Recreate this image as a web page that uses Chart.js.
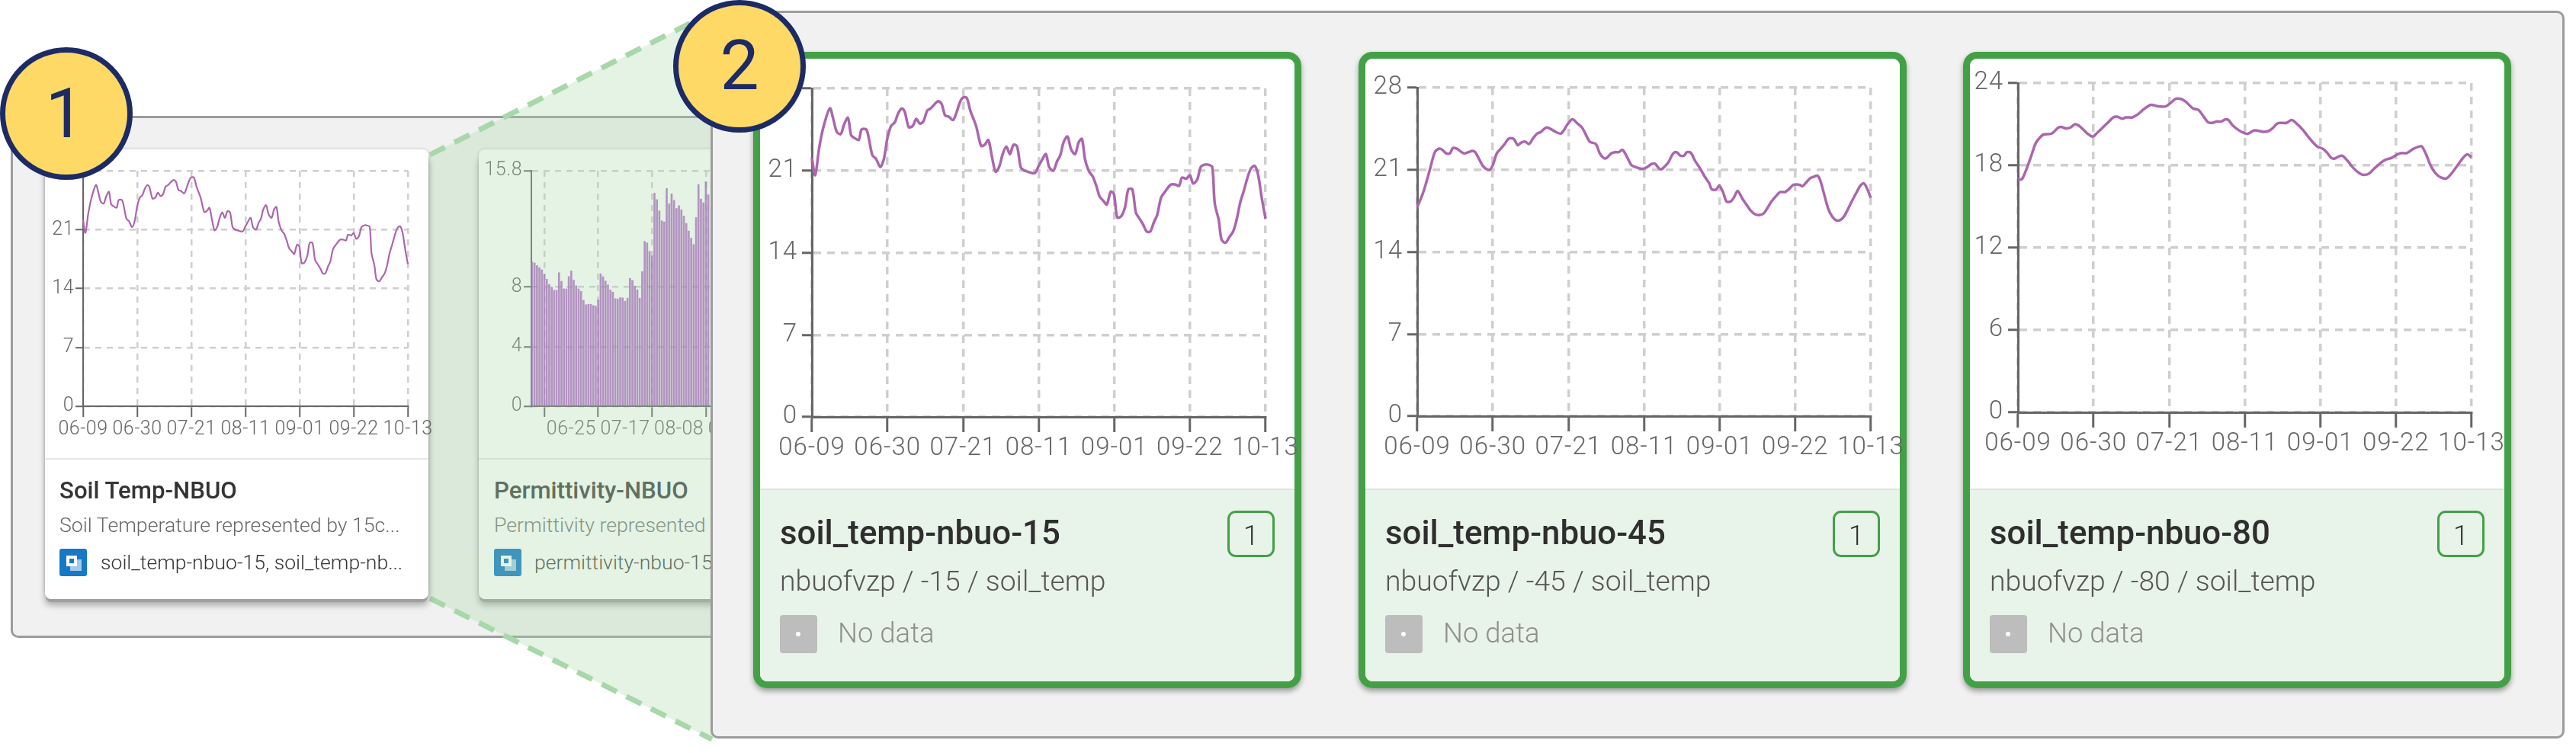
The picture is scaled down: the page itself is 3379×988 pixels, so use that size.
<!DOCTYPE html>
<html><head><meta charset="utf-8">
<script src="https://cdn.jsdelivr.net/npm/chart.js@4"></script>
<style>
html,body{margin:0;padding:0;background:#fff;}
#stage{position:relative;width:3379px;height:988px;overflow:hidden;font-family:Roboto,sans-serif;background:#fff;}
#stage div,#stage canvas,#stage svg{position:absolute;box-sizing:border-box;}
.panel{background:#f1f1f1;border:3px solid #9c9c9c;border-radius:10px;}
.card{background:#fff;border-radius:8px;box-shadow:0 3px 0 #fff,0 8px 0 -1px #a0a0a0,0 11px 8px rgba(0,0,0,.3),0 0 4px rgba(0,0,0,.2);}
.big{background:#fff;border-radius:18px;box-shadow:0 0 0 9px #43a047 inset,0 4px 7px rgba(0,0,0,.35);}
.foot{background:#e8f3e9;border-top:2px solid #e2e2e2;}
.t{white-space:nowrap;line-height:1;}
.circle{background:#ffd966;border:7px solid #1c2b66;border-radius:50%;width:174px;height:174px;}
</style></head><body><div id="stage"></div>
<script>
// ---- values ----
const tickDays = [0, 21, 42, 63, 84, 105, 126];
const tickLabels = ['06-09', '06-30', '07-21', '08-11', '09-01', '09-22', '10-13'];

const days15 = [0,0.9,2,3.2,5,6,6.9,8,8.9,10,10.9,11.7,13,13.8,15.1,15.9,16.8,17.8,19,20,21,22,23,24,25,25.8,26.9,28,29,30,31,32,33,35,36,37,38,39.2,40,41.1,41.9,43,44,45.6,47,48,49,50,51,52,53,54,55,56,57,58,59,60,61,62,63,63.9,65,65.9,67.1,68.1,69,69.9,71,72,73.1,74.1,75,75.9,77,78,79,79.9,81,81.9,83,83.9,84.8,85.9,87,87.9,89,90,91,92,93,94,95,95.9,97,98.1,99.7,101,102,102.8,104,105,105.9,107,108,109,110.1,111.2,111.9,113,113.8,114.9,115.9,117,117.9,119,120,121,122,123,123.9,125,126];
const temp15 = [22.1,20.6,22.9,24.7,26.3,25.3,24.3,24.1,24.9,25.5,24.0,23.8,23.6,24.5,24.5,23.6,22.3,22.0,21.3,22.0,23.8,24.8,25.1,25.9,26.3,26.0,24.7,24.8,25.4,25.0,25.2,26.1,26.3,26.9,26.7,25.7,25.6,25.3,25.8,26.8,27.2,27.2,26.1,24.8,23.1,23.2,23.6,22.2,20.9,21.3,22.4,23.05,22.4,23.2,23.05,21.3,21.0,20.9,20.8,20.8,21.4,21.9,22.4,21.3,21.0,21.8,22.3,23.4,23.9,22.8,22.4,23.4,23.7,21.9,20.9,20.5,19.7,18.8,18.4,18.1,19.2,19.0,17.0,17.1,17.9,19.4,19.4,17.4,16.9,16.4,15.8,15.8,16.6,17.2,18.7,19.2,19.8,19.8,19.7,20.4,20.3,20.6,19.9,20.2,21.3,21.5,21.5,21.3,18.2,16.8,15.1,14.85,15.3,15.8,16.7,18.3,19.3,20.4,21.2,21.4,20.7,18.6,16.9];

const days45 = [0,1.7,3.5,4.9,6.1,7,8,9.1,9.9,11,11.9,13,14.2,15.3,16.1,17.2,18.3,19.3,20.2,21,22.1,23.2,24.3,25.2,26,26.9,27.9,28.8,29.9,31.1,32,33.2,34.2,35.9,37.5,38.6,40,41.8,43.1,44.5,45.9,47.9,49.6,50.7,51.8,52.6,53.9,54.9,56,57,58.1,59.5,60.9,62,63,64.2,65.1,66.1,67.2,67.9,68.8,69.8,70.8,71.6,72.3,73.1,74.1,74.9,76,77.2,78.6,79.8,81.1,81.8,83,83.9,85,85.9,87.1,88,89,90.3,91.3,92.7,93.9,95.2,96.3,97.3,98.4,99.8,100.8,102.1,103.1,104.4,105.4,106.3,107,108,109.2,110.1,111.1,111.9,113,114.2,115.3,116.3,117.4,118.5,119.5,120.7,122,123,124,124.8,126];
const temp45 = [17.8,19.1,21,22.5,22.8,22.7,22.4,22.4,22.85,22.8,22.6,22.4,22.5,22.6,22.5,21.9,21.3,21.05,21,21.4,22.4,22.8,23.2,23.6,23.7,23.6,23.1,23.3,23.4,23.2,23.6,24.05,24.2,24.6,24.4,24.2,24.1,24.9,25.3,24.95,24.55,23.4,23.2,22.4,22.0,22.0,22.4,22.5,22.5,22.7,22.2,21.4,21.2,21.1,21.1,21.3,21.5,21.5,21.1,21.05,21.3,21.65,22.25,22.5,22.45,22.2,22.2,22.5,22.45,21.75,21.1,20.45,19.85,19.35,19.3,19.65,19.05,18.3,18.3,18.65,19.2,18.55,18.1,17.5,17.2,17.15,17.3,17.75,18.3,18.8,19.1,19.1,19.3,19.7,19.75,19.7,19.6,19.9,20.3,20.4,20.5,20.15,18.95,17.65,17.0,16.7,16.7,17.0,17.55,18.3,19.05,19.6,19.85,19.5,18.6];

const days80 = [0,1.1,2.1,3.5,4.9,6,7.1,9.2,10.2,11.2,12,13.3,14.5,15.9,16.9,18,19.4,20.8,21.9,23.3,24.7,26.5,27.5,29,30,31.8,33.2,35,36.7,37.4,39,41,42.4,43.8,45.2,46.6,48.6,50.1,51.6,52.8,54,55.1,56.5,57.6,58.5,59.7,61.4,62.9,63.8,65.7,68.2,69.6,70.7,72,72.8,74.6,76,77.4,79.1,80.9,83,84.8,85.8,87,88,89.1,90.1,91.5,93.2,95,96.1,97.5,98.9,100.6,102,103.8,105.4,106.6,108,109.8,111.2,112.1,113.3,114.7,116.1,117.6,119,120.4,122.1,123.5,124.8,126];
const temp80 = [16.95,17.0,17.55,18.55,19.6,20.0,20.25,20.3,20.5,20.75,20.8,20.7,20.75,21.0,20.9,20.65,20.3,20.1,20.35,20.7,21.05,21.5,21.55,21.4,21.5,21.5,21.7,22.1,22.4,22.4,22.3,22.3,22.55,22.85,22.85,22.65,22.15,22.05,21.55,21.15,21.1,21.2,21.2,21.35,21.3,20.9,20.55,20.35,20.3,20.55,20.45,20.5,20.7,21.05,21.1,21.1,21.3,21.05,20.6,20.0,19.4,19.2,18.95,18.55,18.5,18.65,18.7,18.35,17.8,17.4,17.3,17.4,17.75,18.15,18.4,18.55,18.8,18.9,18.9,19.2,19.35,19.4,18.85,17.95,17.4,17.1,17.05,17.4,18.0,18.5,18.8,18.6];

const permittivity = [9.68,9.61,9.44,9.30,9.15,8.86,8.52,8.17,7.99,7.78,7.78,8.96,8.38,7.88,7.87,8.70,9.08,8.46,8.09,7.87,7.71,7.10,6.81,6.84,6.84,6.76,6.72,7.13,8.89,8.69,8.40,8.14,7.80,7.66,7.22,7.20,7.29,7.27,7.05,7.25,8.58,8.45,8.07,7.82,7.25,9.03,11.06,10.96,10.39,10.09,14.30,13.87,13.11,12.44,12.37,14.61,13.58,14.25,13.81,13.26,13.46,13.19,12.76,12.27,11.76,11.28,10.85,12.66,14.88,13.91,13.65,15.07,14.18];
const permTickDays = [16, 38, 60, 82, 104, 126];
const permTickLabels = ['06-25', '07-17', '08-08', '08-30', '09-21', '10-13'];
const permYTicks = [0, 4, 8, 15.8];

const ticks28 = [0, 7, 14, 21, 28];
const ticks24 = [0, 6, 12, 18, 24];

// ---- page building ----
const stage = document.getElementById('stage');
function box(cls, l, t, w, h, z, css) {
  const d = document.createElement('div');
  d.className = cls;
  d.style.cssText = `left:${l}px;top:${t}px;width:${w}px;height:${h}px;z-index:${z};${css || ''}`;
  stage.appendChild(d);
  return d;
}
function text(str, l, baseline, size, weight, color, z, extra) {
  const d = document.createElement('div');
  d.className = 't';
  d.textContent = str;
  d.style.cssText = `left:${l}px;top:${baseline - size * 0.8415}px;font-size:${size}px;font-weight:${weight};color:${color};z-index:${z};${extra || ''}`;
  stage.appendChild(d);
  return d;
}

box('panel', 14, 152, 960, 685, 1);
box('panel', 932, 14, 2432, 955, 5);

// overlay wedge between the two panels
const NS = 'http://www.w3.org/2000/svg';
const svg = document.createElementNS(NS, 'svg');
svg.setAttribute('width', 3379); svg.setAttribute('height', 988);
svg.style.cssText = 'left:0;top:0;z-index:3;';
svg.innerHTML = '<polygon points="562,204 934,16 934,970 562,784" fill="rgba(165,214,167,0.3)"/>' +
  '<line x1="564" y1="203" x2="934" y2="16" stroke="#a8d8aa" stroke-width="7" stroke-dasharray="22 14"/>' +
  '<line x1="564" y1="785" x2="934" y2="970" stroke="#a8d8aa" stroke-width="7" stroke-dasharray="22 14"/>';
stage.appendChild(svg);

function icon(l, t, z, color) {
  box('', l, t, 36, 36, z, `background:${color};border-radius:3px;`);
  box('', l + 14, t + 14, 15, 15, z, 'background:rgba(255,255,255,.6);');
  box('', l + 9, t + 9, 14, 14, z, 'background:#fff;');
  box('', l + 13, t + 13, 6, 6, z, `background:${color};`);
}

// small card 1
box('card', 59, 196, 503, 587, 4);
box('', 59, 601, 503, 2, 4, 'background:#e6e6e6;');
text('Soil Temp-NBUO', 78, 654, 31.2, 500, '#333', 4);
text('Soil Temperature represented by 15c...', 78, 698, 26.7, 300, '#666', 4);
icon(78, 720, 4, '#1579c6');
text('soil_temp-nbuo-15, soil_temp-nb...', 132, 747, 26.6, 300, '#333', 4);

// small card 2
box('card', 628, 196, 503, 587, 2);
box('', 628, 601, 503, 2, 2, 'background:#e6e6e6;');
text('Permittivity-NBUO', 648, 654, 31.2, 500, '#444', 2);
text('Permittivity represented by 15cm...', 648, 698, 26.7, 300, '#777', 2);
icon(648, 720, 2, '#1579c6');
text('permittivity-nbuo-15, permittivity...', 701, 747, 26.6, 300, '#444', 2);

// large cards
const bigCards = [
  { left: 988, name: 'soil_temp-nbuo-15', sub: 'nbuofvzp / -15 / soil_temp' },
  { left: 1782, name: 'soil_temp-nbuo-45', sub: 'nbuofvzp / -45 / soil_temp' },
  { left: 2575, name: 'soil_temp-nbuo-80', sub: 'nbuofvzp / -80 / soil_temp' }
];
bigCards.forEach(c => {
  const L = c.left;
  box('big', L, 68, 719, 835, 6);
  box('foot', L + 9, 641, 701, 253, 6, 'border-radius:0 0 10px 10px;');
  text(c.name, L + 35, 715, 43.8, 500, '#2e2e2e', 7);
  text(c.sub, L + 35, 775, 37.3, 300, '#555', 7);
  box('', L + 622, 670, 62, 61, 7, 'border:3px solid #43a047;border-radius:11px;');
  text('1', L + 622, 715, 36, 300, '#333', 7, 'width:62px;text-align:center;');
  box('', L + 35, 807, 49, 50, 7, 'background:#bdbdbd;border-radius:4px;');
  box('', L + 56, 829, 6, 6, 7, 'background:#fff;border-radius:50%;');
  text('No data', L + 111, 844, 36.5, 300, '#8f8f8f', 7);
});

// numbered circles
box('circle', 0, 62, 174, 174, 8);
text('1', -2, 181, 91, 400, '#1c2b66', 8, 'width:174px;text-align:center;');
box('circle', 883, 0, 174, 174, 8);
text('2', 883, 118, 91, 400, '#1c2b66', 8, 'width:174px;text-align:center;');

// ---- charts ----
const pairs = (xs, ys) => xs.map((x, i) => ({ x, y: ys[i] }));
function axisFont(size) { return { family: 'Roboto', size, weight: '300' }; }

function plot(o) {
  const c = document.createElement('canvas');
  const width = o.yW + (o.right - o.left) + o.padR;
  const height = o.padT + (o.bottom - o.top) + o.xH;
  c.width = width; c.height = height;
  c.style.cssText = `left:${o.left - o.yW}px;top:${o.top - o.padT}px;width:${width}px;height:${height}px;z-index:${o.z};`;
  stage.appendChild(c);
  const gridX = { color: '#cfcfcf', lineWidth: o.grid, tickColor: '#666', tickWidth: o.axisW, tickLength: o.xTick, tickBorderDash: [] };
  const gridY = { color: '#cfcfcf', lineWidth: o.grid, tickColor: '#666', tickWidth: o.axisW, tickLength: o.yTick, tickBorderDash: [] };
  const border = { color: '#666', width: o.axisW, dash: o.dash };
  return new Chart(c, {
    type: o.type,
    data: { datasets: [o.dataset] },
    plugins: [{ id: 'spacing', beforeDraw: ch => { ch.ctx.letterSpacing = o.spacing; } }],
    options: {
      responsive: false, animation: false, devicePixelRatio: 1,
      layout: { autoPadding: false, padding: { top: o.padT, right: o.padR, left: 0, bottom: 0 } },
      plugins: { legend: { display: false }, tooltip: { enabled: false } },
      scales: {
        x: {
          type: 'linear', min: o.xMin, max: o.xMax, offset: false,
          grid: gridX, border,
          afterBuildTicks: s => { s.ticks = o.xTicks.map(value => ({ value })); },
          afterFit: s => { s.height = o.xH; },
          ticks: { font: axisFont(o.font), color: o.tickColor, padding: o.xPad, maxRotation: 0, minRotation: 0, autoSkip: false,
            callback: v => o.xLabels[o.xTicks.indexOf(v)] }
        },
        y: {
          type: 'linear', min: o.yTicks[0], max: o.yTicks[o.yTicks.length - 1],
          grid: gridY, border,
          afterBuildTicks: s => { s.ticks = o.yTicks.map(value => ({ value })); },
          afterFit: s => { s.width = o.yW; },
          ticks: { font: axisFont(o.font), color: o.tickColor, padding: o.yPad, autoSkip: false, callback: v => String(v) }
        }
      }
    }
  });
}
function lineSet(xs, ys, w) {
  return { data: pairs(xs, ys), borderColor: '#ab66ae', borderWidth: w, pointRadius: 0, tension: 0.3, fill: false, clip: false };
}
const bigBase = { type: 'line', padT: 40, padR: 70, yW: 60, xH: 70, z: 7, grid: 3.5, axisW: 3, dash: [10, 8], xTick: 20, yTick: 13,
  font: 33, spacing: '1px', xPad: 2, yPad: 6, tickColor: '#666', xMin: 0, xMax: 126, xTicks: tickDays, xLabels: tickLabels };
plot({ ...bigBase, left: 1065, right: 1660, top: 116, bottom: 547, yTicks: ticks28, dataset: lineSet(days15, temp15, 3.5) });
plot({ ...bigBase, left: 1859, right: 2454, top: 115, bottom: 546, yTicks: ticks28, dataset: lineSet(days45, temp45, 3.5) });
plot({ ...bigBase, left: 2647, right: 3242, top: 109, bottom: 541, yTicks: ticks24, dataset: lineSet(days80, temp80, 3.5) });

const smallBase = { padT: 30, padR: 40, yW: 70, xH: 50, grid: 2.5, axisW: 2, dash: [8, 7], xTick: 14, yTick: 10, font: 25, spacing: '0.5px', xPad: 2, yPad: 2, tickColor: '#666' };
plot({ ...smallBase, type: 'line', z: 4, left: 108.5, right: 534.5, top: 224, bottom: 533, xMin: 0, xMax: 126, xTicks: tickDays, xLabels: tickLabels,
  yTicks: ticks28, dataset: lineSet(days15, temp15, 2.2) });
plot({ ...smallBase, type: 'bar', z: 2, left: 697, right: 1123, top: 223.5, bottom: 533, xMin: -0.3, xMax: 132.4, xTicks: permTickDays, xLabels: permTickLabels,
  yTicks: permYTicks,
  dataset: { data: pairs(permittivity.map((_, i) => i), permittivity), backgroundColor: 'rgba(168,85,192,0.8)', barThickness: 2, clip: false } });
</script></body></html>
